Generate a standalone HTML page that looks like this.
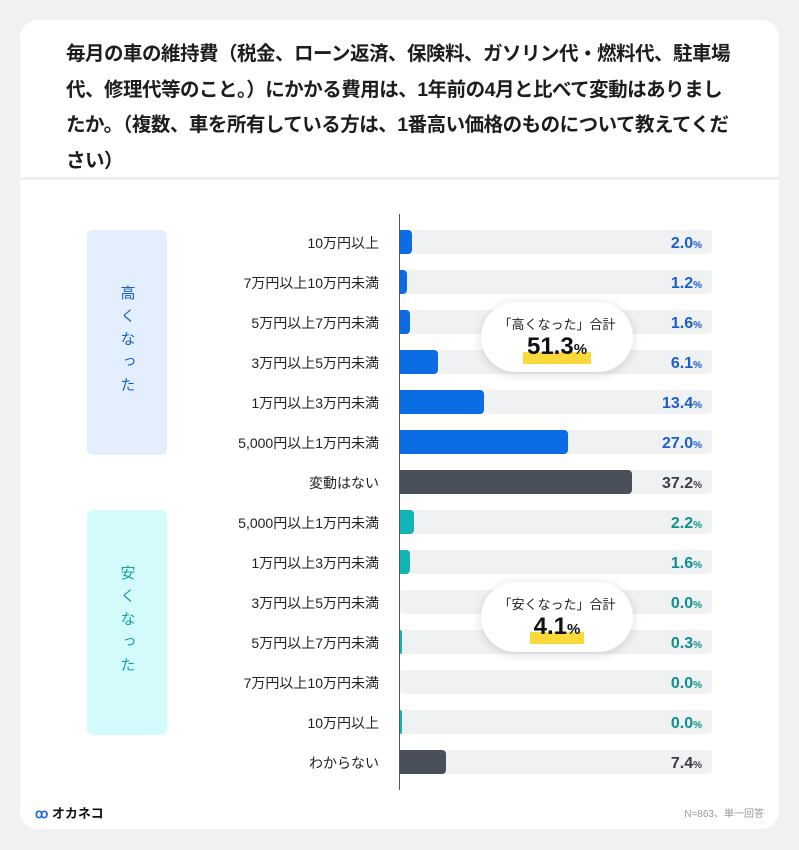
<!DOCTYPE html>
<html><head><meta charset="utf-8"><style>
*{margin:0;padding:0;box-sizing:border-box}
body{width:799px;height:850px;background:#f0f1f3;font-family:"Liberation Sans","Noto Sans CJK JP",sans-serif;position:relative;overflow:hidden}
.card{position:absolute;left:20px;top:20px;width:759px;height:809px;background:#fff;border-radius:18px;overflow:hidden}
.title{position:absolute;left:46px;top:17px;width:700px;font-size:19.5px;font-weight:bold;line-height:35.5px;color:#1d1d1f;letter-spacing:-0.5px;white-space:nowrap}
.sep{position:absolute;left:0;top:157px;width:759px;height:3px;background:#eeeff1}
.abs{position:absolute}
.lbl{position:absolute;right:420px;font-size:14px;line-height:20px;color:#222;text-align:right;white-space:nowrap}
.track{position:absolute;left:400px;width:312px;height:24px;background:#f0f1f3;border-radius:4px}
.bar{position:absolute;left:400px;height:24px;border-radius:0 4px 4px 0}
.val{position:absolute;right:97px;font-size:16px;line-height:20px;font-weight:bold;white-space:nowrap}
.val small{font-size:10px}
.grp{position:absolute;left:87px;width:80px;height:225px;border-radius:6px;font-size:15px;writing-mode:vertical-rl;display:flex;align-items:center;justify-content:center;letter-spacing:8px}
.pill{position:absolute;width:152px;height:70px;border-radius:35px;background:#fff;box-shadow:0 2px 10px rgba(0,0,0,0.15);text-align:center}
.pill .t{font-size:13px;color:#222;margin-top:12px}
.pill .n{font-size:24px;font-weight:bold;color:#111;display:inline-block;background:linear-gradient(transparent 62%,#fbd93a 62%);padding:0 4px;line-height:28px}
.pill .n small{font-size:15px}
</style></head><body>
<div class="card">
<div class="title">毎月の車の維持費（税金、ローン返済、保険料、ガソリン代・燃料代、駐車場<br>代、修理代等のこと。）にかかる費用は、1年前の4月と比べて変動はありまし<br>たか。（複数、車を所有している方は、1番高い価格のものについて教えてくだ<br>さい）</div>
<div class="sep"></div>
</div>
<div class="grp" style="top:230px;background:#e3efff;color:#1a5fcc">高くなった</div>
<div class="grp" style="top:510px;background:#d4fbfb;color:#13a0a0">安くなった</div>
<div class="abs" style="left:399px;top:214px;width:1px;height:576px;background:#555"></div>
<div id="rows"></div>
<div class="pill" style="left:481px;top:302px"><div class="t">「高くなった」合計</div><div class="n">51.3<small>%</small></div></div>
<div class="pill" style="left:481px;top:582px"><div class="t">「安くなった」合計</div><div class="n">4.1<small>%</small></div></div>
<div class="abs" style="left:35px;top:803px;font-size:13px;font-weight:bold;color:#111"><span style="color:#1a6de6">ꝏ</span> オカネコ</div>
<div class="abs" style="right:35px;top:805px;font-size:10px;color:#999">N=863、単一回答</div>
<script>
var d=[["10万円以上",2.0,"b"],["7万円以上10万円未満",1.2,"b"],["5万円以上7万円未満",1.6,"b"],["3万円以上5万円未満",6.1,"b"],["1万円以上3万円未満",13.4,"b"],["5,000円以上1万円未満",27.0,"b"],["変動はない",37.2,"d"],["5,000円以上1万円未満",2.2,"t"],["1万円以上3万円未満",1.6,"t"],["3万円以上5万円未満",0.0,"t"],["5万円以上7万円未満",0.3,"t"],["7万円以上10万円未満",0.0,"t"],["10万円以上",0.0,"t"],["わからない",7.4,"d"]];
var bc={b:"#0a6de6",d:"#4a5059",t:"#12b5b5"},vc={b:"#1a5fcc",d:"#3a3f47",t:"#0e8f8f"};
var h="";
d.forEach(function(r,i){var c=242+40*i;var w=r[1]*6.24;if(i==12)w=2;
h+='<div class="lbl" style="top:'+(c-9)+'px">'+r[0]+'</div>';
h+='<div class="track" style="top:'+(c-12)+'px"></div>';
if(w>0)h+='<div class="bar" style="top:'+(c-12)+'px;width:'+Math.max(w,2)+'px;background:'+bc[r[2]]+'"></div>';
h+='<div class="val" style="top:'+(c-8)+'px;color:'+vc[r[2]]+'">'+r[1].toFixed(1)+'<small>%</small></div>';});
document.getElementById("rows").innerHTML=h;
</script>
</body></html>
